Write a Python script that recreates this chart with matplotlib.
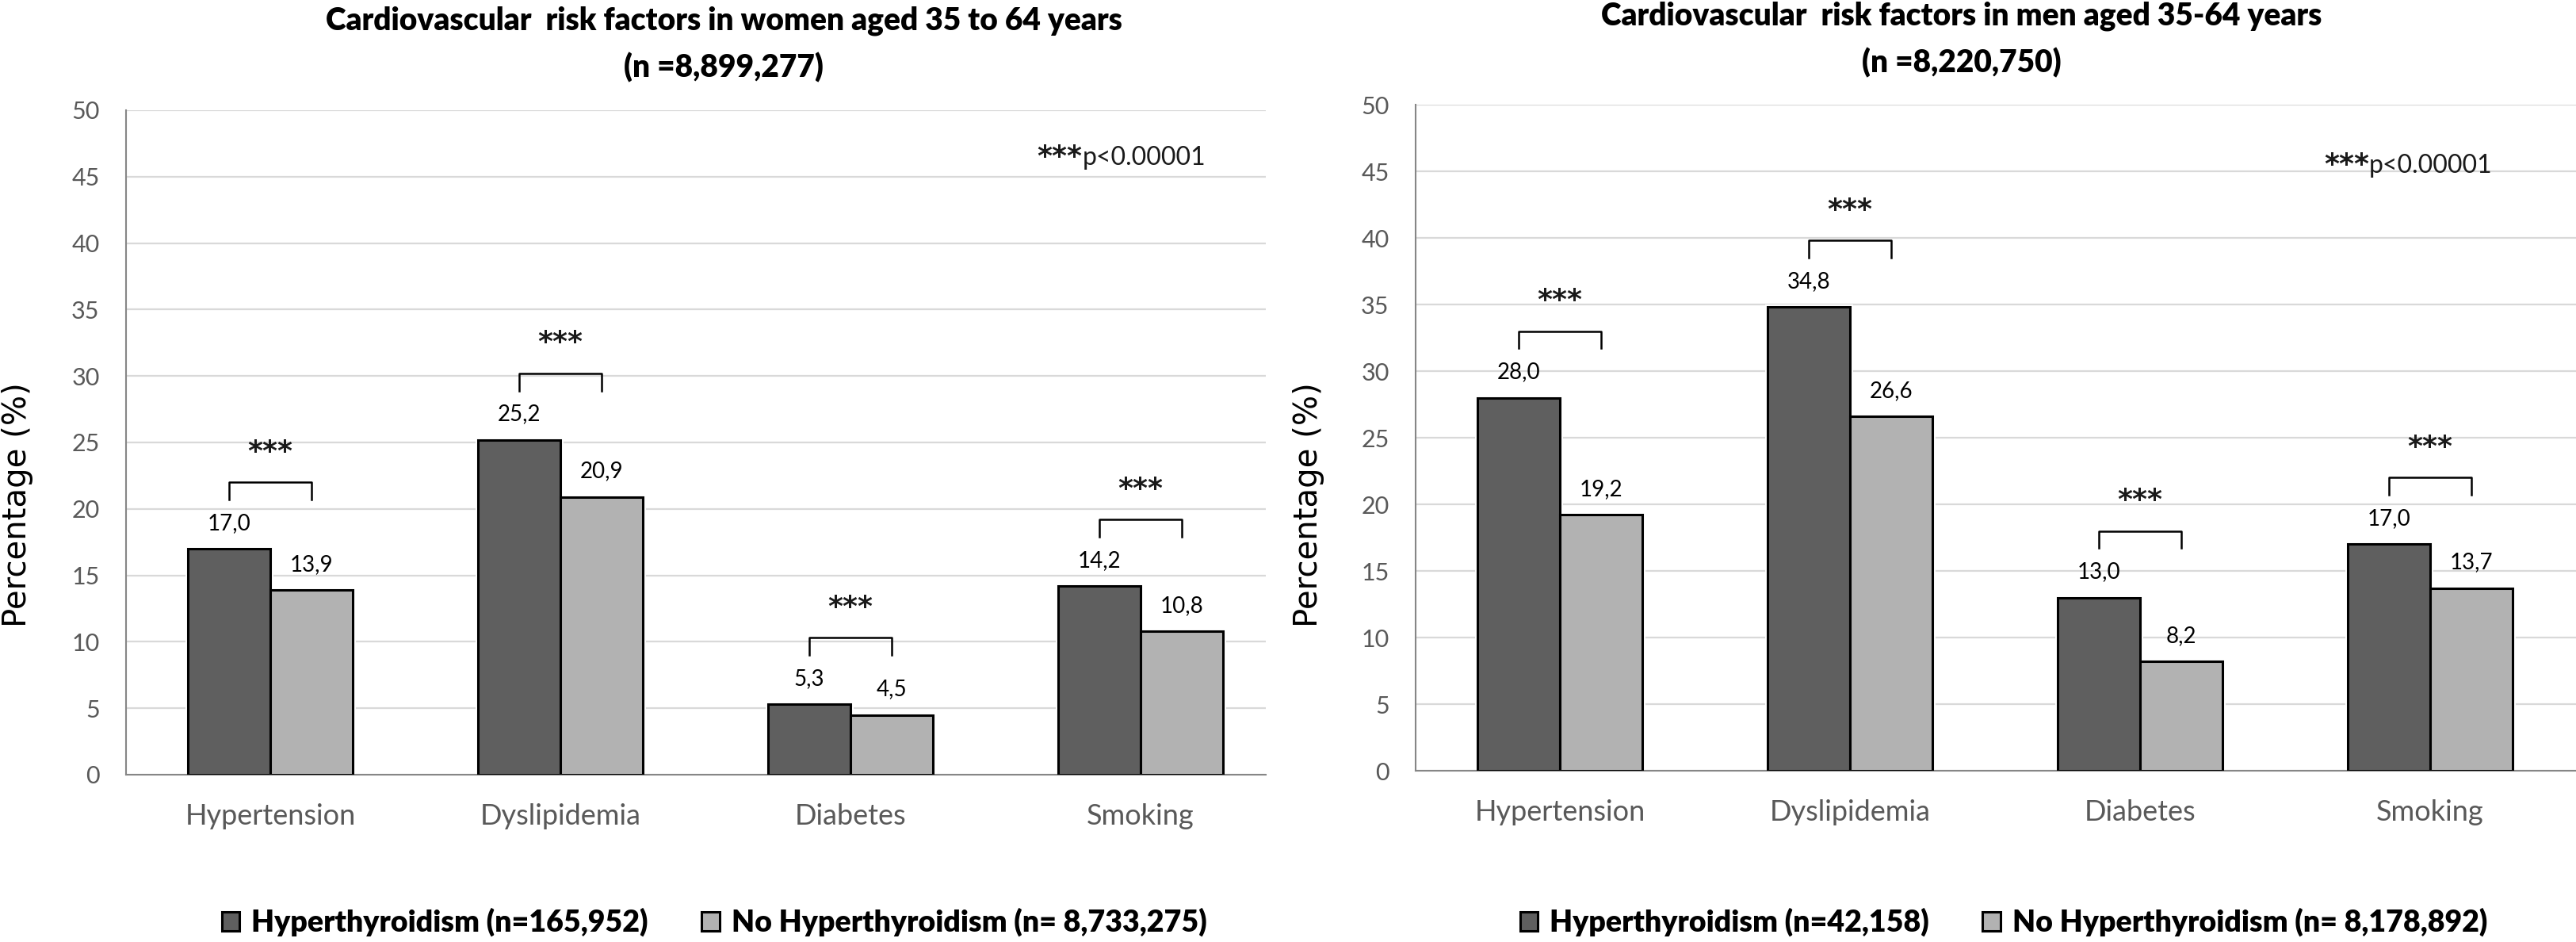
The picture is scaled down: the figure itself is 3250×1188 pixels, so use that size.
import matplotlib
matplotlib.use('Agg')
import numpy as np
import matplotlib.pyplot as plt

plt.rcParams['font.family'] = 'Lato'

categories = ['Hypertension', 'Dyslipidemia', 'Diabetes', 'Smoking']
women_hyper = [17.0, 25.2, 5.3, 14.2]
women_nohyper = [13.9, 20.9, 4.5, 10.8]
men_hyper = [28.0, 34.8, 13.0, 17.0]
men_nohyper = [19.2, 26.6, 8.2, 13.7]
yticks = list(range(0, 51, 5))

women_title = ['Cardiovascular  risk factors in women aged 35 to 64 years', '(n =8,899,277)']
men_title = ['Cardiovascular  risk factors in men aged 35-64 years', '(n =8,220,750)']
women_legend = ['Hyperthyroidism (n=165,952)', 'No Hyperthyroidism (n= 8,733,275)']
men_legend = ['Hyperthyroidism (n=42,158)', 'No Hyperthyroidism (n= 8,178,892)']
p_note = 'p<0.00001'

DARK = '#5f5f5f'
LIGHT = '#b2b2b2'
W, H = 3250, 1188

fig = plt.figure(figsize=(W / 100, H / 100), dpi=100)


def draw_panel(ax, hyper, nohyper, xmax, p_pos):
    x = np.arange(len(categories))
    w = 0.285
    # white halo under the bars (gridlines stop short of the bars)
    for vals, off in [(hyper, -w / 2), (nohyper, w / 2)]:
        ax.bar(x + off, vals, w, color='white', edgecolor='white', linewidth=5, zorder=2)
    b1 = ax.bar(x - w / 2, hyper, w, color=DARK, edgecolor='black', linewidth=2.2, zorder=3)
    b2 = ax.bar(x + w / 2, nohyper, w, color=LIGHT, edgecolor='black', linewidth=2.2, zorder=3)

    for i in range(len(categories)):
        for xx, v in [(x[i] - w / 2, hyper[i]), (x[i] + w / 2, nohyper[i])]:
            ax.text(xx, v + 1.45, f'{v:.1f}'.replace('.', ','), ha='center', va='baseline',
                    fontsize=20, color='black', zorder=5)
        top = max(hyper[i], nohyper[i]) + 5.0
        ax.plot([x[i] - w / 2, x[i] - w / 2, x[i] + w / 2, x[i] + w / 2],
                [top - 1.3, top, top, top - 1.3], color='black', lw=1.8, zorder=4)
        ax.text(x[i], top + 2.3, '***', ha='center', va='center', fontsize=26,
                family='DejaVu Sans', weight='bold', color='#1a1a1a')

    ax.text(p_pos[0], p_pos[1], '***', ha='right', va='baseline', fontsize=26,
            family='DejaVu Sans', weight='bold', color='#1a1a1a')
    ax.text(p_pos[0], p_pos[1], p_note, ha='left', va='baseline', fontsize=23, color='#1a1a1a')

    ax.set_xlim(-0.497, xmax)
    ax.set_ylim(0, 50)
    ax.set_yticks(yticks)
    ax.set_xticks(x)
    ax.set_xticklabels(categories)
    ax.yaxis.grid(True, color='#d9d9d9', lw=1.6)
    ax.set_axisbelow(True)
    for s in ['top', 'right']:
        ax.spines[s].set_visible(False)
    for s in ['left', 'bottom']:
        ax.spines[s].set_color('#868686')
        ax.spines[s].set_linewidth(1.5)
    ax.tick_params(axis='both', length=0, colors='#595959')
    ax.tick_params(axis='y', labelsize=22, pad=24)
    ax.tick_params(axis='x', labelsize=26, pad=26)
    return b1, b2


ax1 = fig.add_axes([159 / W, 1 - 977 / H, (1597 - 159) / W, (977 - 139) / H])
ax2 = fig.add_axes([1786 / W, 1 - 972 / H, (3250 - 1786) / W, (972 - 132) / H])

bars1 = draw_panel(ax1, women_hyper, women_nohyper, 3.432, (2.80, 45.9))
bars2 = draw_panel(ax2, men_hyper, men_nohyper, 3.503, (2.79, 44.9))

# titles
for xc, y1, lines in [(913, 26, women_title), (2475, 20, men_title)]:
    fig.text(xc / W, 1 - y1 / H, lines[0], ha='center', va='center', fontsize=28, weight=800)
    fig.text(xc / W, 1 - (y1 + 59) / H, lines[1], ha='center', va='center', fontsize=28, weight=800)

# y labels
for xc in [22, 1651]:
    fig.text(xc / W, 1 - 637 / H, 'Percentage (%)', rotation=90, ha='center', va='center',
             fontsize=29, family='DejaVu Sans', color='black')

# legends
for xc, bars, labels in [(901, bars1, women_legend), (2528, bars2, men_legend)]:
    fig.legend(bars, labels, loc='center', bbox_to_anchor=(xc / W, 1 - 1163 / H), ncol=2,
               frameon=False, prop={'weight': 800, 'size': 27}, handlelength=0.6,
               handleheight=0.6, handletextpad=0.4, columnspacing=1.8)

fig.savefig('out.png', dpi=100)
plt.close()
